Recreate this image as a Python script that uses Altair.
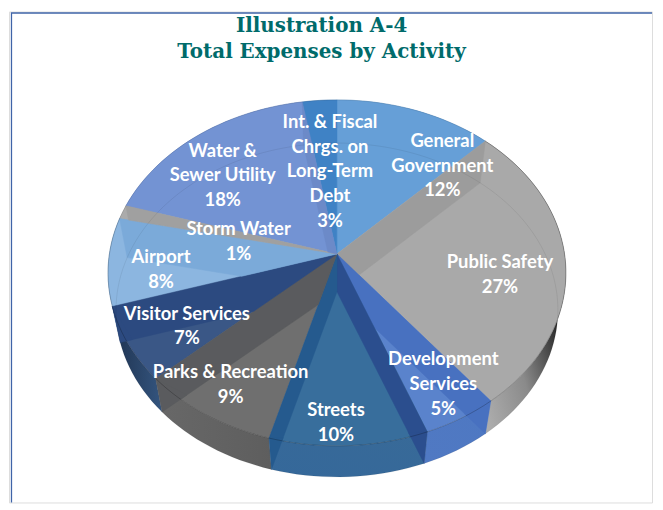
import math
import altair as alt
import pandas as pd

# ---- data ----
activities = ["General Government", "Public Safety", "Development Services", "Streets",
              "Parks & Recreation", "Visitor Services", "Airport", "Storm Water",
              "Water & Sewer Utility", "Int. & Fiscal Chrgs. on Long-Term Debt"]
shares = [12.4, 27.0, 4.8, 10.1, 8.9, 7.0, 8.2, 1.3, 17.6, 2.7]
label_lines = [["General", "Government", "12%"], ["Public Safety", "27%"],
               ["Development", "Services", "5%"], ["Streets", "10%"],
               ["Parks & Recreation", "9%"], ["Visitor Services", "7%"],
               ["Airport", "8%"], ["Storm Water", "1%"],
               ["Water &", "Sewer Utility", "18%"],
               ["Int. & Fiscal", "Chrgs. on", "Long-Term", "Debt", "3%"]]
title_lines = ["Illustration A-4", "Total Expenses by Activity"]

# ---- styling ----
top_colors = ["#669FD7", "#A9A9A9", "#5A83CC", "#386E9C", "#6F6F6F",
              "#3A5786", "#8CB6E0", "#ABABAB", "#7393D3", "#3F82C5"]
# colour of the radial wall seen through the slice below each inner boundary
boundary_colors = ["#9C9C9C", "#4871C0", "#2B4E8E", "#255A8E", "#5A5B5E",
                   "#2C4A80", "#7BAAD9", "#A0A0A0", "#6C8AC8"]
wall_fills = [
    ("#5A96D0", "#5A96D0"),
    None,
    ("#4E78C2", "#5079C3"),
    ("#386A98", "#35689A"),
    ("#686868", "#5E5E5E"),
    ("#1F3350", "#34557F"),
    ("#5E97CE", "#5E97CE"),
    ("#999999", "#999999"),
    ("#5F7FC0", "#5F7FC0"),
    ("#3A78B8", "#3A78B8"),
]
safety_wall = [(0.37, "#2A2A2A"), (0.65, "#8A8A8A"), (1.0, "#B4B4B4")]
label_xy = [(444, 138), (502, 260), (445, 358), (337, 409), (231, 371),
            (187, 312), (161, 255), (239, 227), (223, 148), (331, 119)]

# ---- projection of the tilted disc ----
CX, CY, RX, RY, K = 338.0, 252.0, 229.0, 172.0, 0.109
SHRINK, DROP = 0.965, 38.0


def top_pt(t):
    d = 1 + K * math.cos(t)
    return CX + RX * math.sin(t) / d, CY - RY * math.cos(t) / d


def low_pt(t):
    x, y = top_pt(t)
    return CX + (x - CX) * SHRINK, CY + (y - CY) * SHRINK + DROP


def arc(fn, a, b):
    n = max(2, int(abs(b - a) / math.radians(2)))
    return [fn(a + (b - a) * i / n) for i in range(n + 1)]


def area2(p):
    return sum(p[i][0] * p[(i + 1) % len(p)][1] - p[(i + 1) % len(p)][0] * p[i][1] for i in range(len(p)))


def clip(poly, win):
    if area2(win) < 0:
        win = win[::-1]
    out = poly
    for i in range(len(win)):
        a, b = win[i], win[(i + 1) % len(win)]
        inside = lambda p: (b[0] - a[0]) * (p[1] - a[1]) - (b[1] - a[1]) * (p[0] - a[0]) >= 0
        cur, out = out, []
        for j in range(len(cur)):
            p, q = cur[j], cur[(j + 1) % len(cur)]
            if inside(p):
                out.append(p)
            if inside(p) != inside(q):
                d1 = (b[0] - a[0]) * (p[1] - a[1]) - (b[1] - a[1]) * (p[0] - a[0])
                d2 = (b[0] - a[0]) * (q[1] - a[1]) - (b[1] - a[1]) * (q[0] - a[0])
                s = d1 / (d1 - d2)
                out.append((p[0] + (q[0] - p[0]) * s, p[1] + (q[1] - p[1]) * s))
        if not out:
            return []
    return out


def hull(points):
    pts = sorted(set(points))
    def half(seq):
        h = []
        for p in seq:
            while len(h) > 1 and ((h[-1][0] - h[-2][0]) * (p[1] - h[-2][1]) - (h[-1][1] - h[-2][1]) * (p[0] - h[-2][0])) <= 0:
                h.pop()
            h.append(p)
        return h[:-1]
    return half(pts) + half(pts[::-1])


xs = alt.Scale(domain=[8, 655], range=[0, 647], nice=False, zero=False)
ys = alt.Scale(domain=[8, 502], range=[0, 494], nice=False, zero=False)
X = alt.X("x:Q", scale=xs, axis=None)
Y = alt.Y("y:Q", scale=ys, axis=None)


def shape(points, fill, opacity=1.0, stroke=None, name=""):
    closed = list(points) + [points[0]]
    df = pd.DataFrame({"x": [p[0] for p in closed], "y": [p[1] for p in closed],
                       "i": range(len(closed)), "activity": name})
    return alt.Chart(df).mark_line(fill=fill, fillOpacity=opacity,
                                   stroke=stroke or (fill if isinstance(fill, str) else "#777777"),
                                   strokeWidth=0.5).encode(x=X, y=Y, order="i:Q")


def polyline(points, color, width, opacity):
    df = pd.DataFrame({"x": [p[0] for p in points], "y": [p[1] for p in points], "i": range(len(points))})
    return alt.Chart(df).mark_line(color=color, strokeWidth=width, opacity=opacity).encode(x=X, y=Y, order="i:Q")


# ---- slice angles from the shares ----
edges = [0.0]
for s in shares:
    edges.append(edges[-1] + s / sum(shares) * 2 * math.pi)
c_top, c_low = (CX, CY), (CX, CY + DROP)

walls, tops, bands, rims = [], [], [], []
for i, name in enumerate(activities):
    a, b = edges[i], edges[i + 1]
    t_arc, l_arc = arc(top_pt, a, b), arc(low_pt, a, b)
    if wall_fills[i] is None:
        grad = {"gradient": "linear", "x1": 1, "y1": 0, "x2": 0, "y2": 1,
                "stops": [{"offset": o, "color": c} for o, c in safety_wall]}
    else:
        horizontal = i in (4, 5)
        grad = {"gradient": "linear", "x1": 0 if horizontal else 1, "y1": 0, "x2": 1 if horizontal else 0,
                "y2": 0 if horizontal else 1,
                "stops": [{"offset": 0, "color": wall_fills[i][0]}, {"offset": 1, "color": wall_fills[i][1]}]}
    walls.append(shape(t_arc + l_arc[::-1], grad, stroke="#00000000", name=name))
    tops.append(shape([c_top] + t_arc, top_colors[i], name=name))
    rims.append(polyline(l_arc, "#000000", 1, 0.07))
    mid = (a + b) / 2
    rims.append(polyline(t_arc, "#000000", 1, 0.22 if math.cos(mid) < 0 else 0.1))

# a boundary's radial wall shows through the slice lying below it
n = len(shares)
for j in range(1, n):
    t = edges[j]
    owner = j if t < math.pi else j - 1
    a, b = edges[owner], edges[owner + 1]
    quad = [c_top, top_pt(t), low_pt(t), c_low]
    sector = [c_top] + arc(top_pt, a, b)
    inside = clip(quad, sector)
    if len(inside) > 2:
        bands.append(shape(inside, boundary_colors[j - 1], name=activities[owner]))
    if math.pi / 2 < t < 3 * math.pi / 2:
        sliver = clip(quad, hull(arc(top_pt, a, b) + arc(low_pt, a, b)))
        if len(sliver) > 2:
            bands.append(shape(sliver, boundary_colors[j - 1], name=activities[owner]))

label_df = pd.DataFrame({"x": [p[0] for p in label_xy], "y": [p[1] for p in label_xy],
                         "label": ["\n".join(l) for l in label_lines]})
labels = alt.Chart(label_df).mark_text(font="Lato", fontSize=18.5, fontWeight=700, color="white",
                                       lineBreak="\n", lineHeight=25, align="center",
                                       baseline="middle").encode(x=X, y=Y, text="label:N")

frame_df = pd.DataFrame({"x": [10.5, 10.5, 655], "y": [502, 9.5, 9.5], "i": [0, 1, 2]})
frame = alt.Chart(frame_df).mark_line(color="#3F64A8", strokeWidth=1.3).encode(x=X, y=Y, order="i:Q")

chart = alt.layer(frame, *walls, *tops, *bands, *rims, labels).properties(
    width=647, height=494,
    title=alt.TitleParams(text=title_lines, font="DejaVu Serif", fontSize=20, fontWeight="bold",
                          color="#006B6B", anchor="middle", dx=-9, offset=-52, lineHeight=26),
).configure_view(stroke=None).configure(padding=0, background="white")

chart.save("out.html", embed_options={"renderer": "svg", "actions": False})
